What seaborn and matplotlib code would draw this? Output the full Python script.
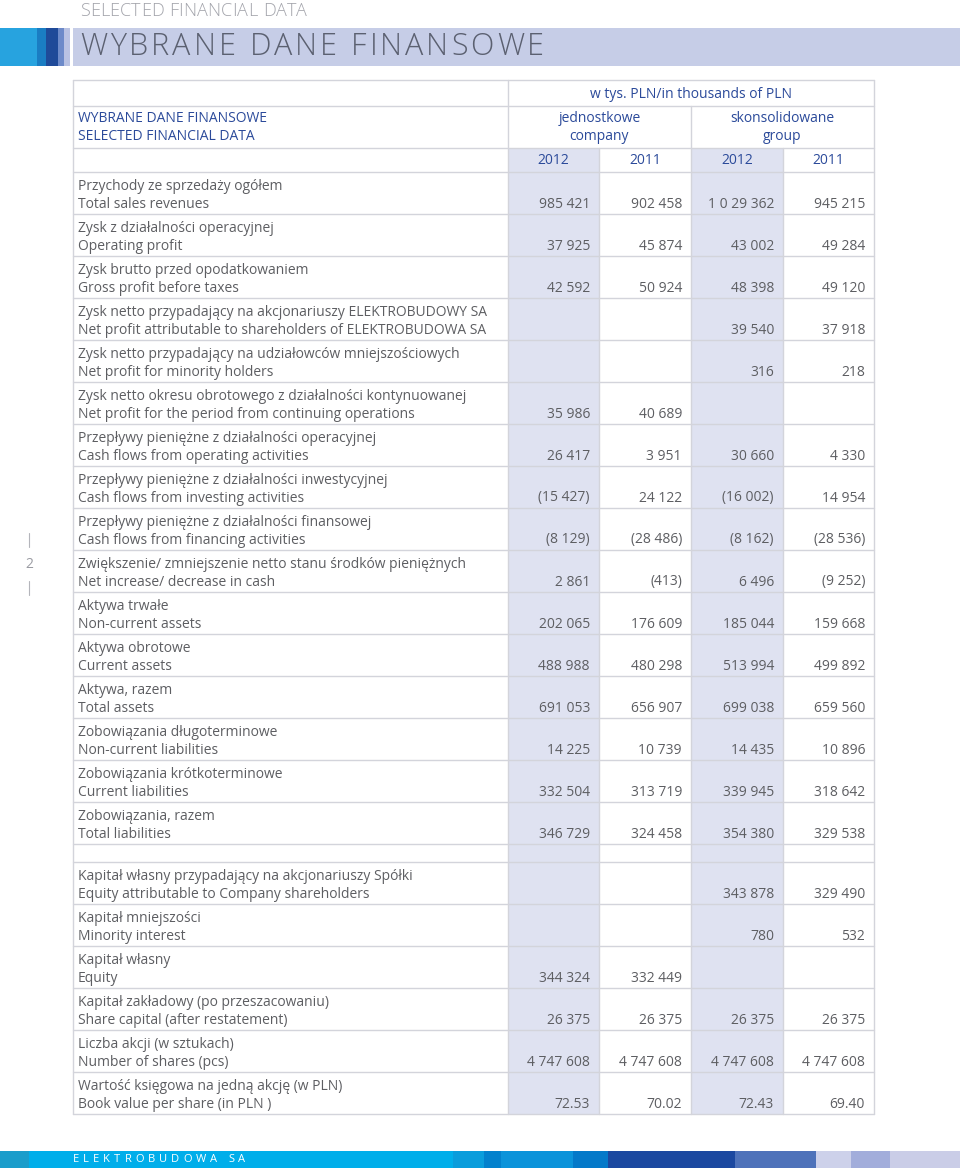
import matplotlib
matplotlib.use("Agg")
import matplotlib.pyplot as plt
import seaborn as sns

# =============================
# DATA
# =============================

labels_pl = [
    "Przychody ze sprzedaży ogółem",
    "Zysk z działalności operacyjnej",
    "Zysk brutto przed opodatkowaniem",
    "Zysk netto przypadający na akcjonariuszy ELEKTROBUDOWY SA",
    "Zysk netto przypadający na udziałowców mniejszościowych",
    "Zysk netto okresu obrotowego z działalności kontynuowanej",
    "Przepływy pieniężne z działalności operacyjnej",
    "Przepływy pieniężne z działalności inwestycyjnej",
    "Przepływy pieniężne z działalności finansowej",
    "Zwiększenie/ zmniejszenie netto stanu środków pieniężnych",
    "Aktywa trwałe",
    "Aktywa obrotowe",
    "Aktywa, razem",
    "Zobowiązania długoterminowe",
    "Zobowiązania krótkoterminowe",
    "Zobowiązania, razem",
    None,
    "Kapitał własny przypadający na akcjonariuszy Spółki",
    "Kapitał mniejszości",
    "Kapitał własny",
    "Kapitał zakładowy (po przeszacowaniu)",
    "Liczba akcji (w sztukach)",
    "Wartość księgowa na jedną akcję (w PLN)",
]
labels_en = [
    "Total sales revenues",
    "Operating profit",
    "Gross profit before taxes",
    "Net profit attributable to shareholders of ELEKTROBUDOWA SA",
    "Net profit for minority holders",
    "Net profit for the period from continuing operations",
    "Cash flows from operating activities",
    "Cash flows from investing activities",
    "Cash flows from financing activities",
    "Net increase/ decrease in cash",
    "Non-current assets",
    "Current assets",
    "Total assets",
    "Non-current liabilities",
    "Current liabilities",
    "Total liabilities",
    None,
    "Equity attributable to Company shareholders",
    "Minority interest",
    "Equity",
    "Share capital (after restatement)",
    "Number of shares (pcs)",
    "Book value per share (in PLN )",
]
company_2012 = ["985 421", "37 925", "42 592", "", "", "35 986", "26 417", "(15 427)",
                "(8 129)", "2 861", "202 065", "488 988", "691 053", "14 225", "332 504",
                "346 729", None, "", "", "344 324", "26 375", "4 747 608", "72.53"]
company_2011 = ["902 458", "45 874", "50 924", "", "", "40 689", "3 951", "24 122",
                "(28 486)", "(413)", "176 609", "480 298", "656 907", "10 739", "313 719",
                "324 458", None, "", "", "332 449", "26 375", "4 747 608", "70.02"]
group_2012 = ["1 0 29 362", "43 002", "48 398", "39 540", "316", "", "30 660", "(16 002)",
              "(8 162)", "6 496", "185 044", "513 994", "699 038", "14 435", "339 945",
              "354 380", None, "343 878", "780", "", "26 375", "4 747 608", "72.43"]
group_2011 = ["945 215", "49 284", "49 120", "37 918", "218", "", "4 330", "14 954",
              "(28 536)", "(9 252)", "159 668", "499 892", "659 560", "10 896", "318 642",
              "329 538", None, "329 490", "532", "", "26 375", "4 747 608", "69.40"]

years = ["2012", "2011", "2012", "2011"]
groups = [("jednostkowe", "company"), ("skonsolidowane", "group")]
unit_label = "w tys. PLN/in thousands of PLN"
title = "WYBRANE DANE FINANSOWE"
subtitle = "SELECTED FINANCIAL DATA"
footer = "ELEKTROBUDOWA SA"

# =============================
# STYLE
# =============================

sns.set_theme(style="white")
plt.rcParams["font.family"] = ["Open Sans", "DejaVu Sans"]

GREY = "#5d5e62"
BLUE = "#2b4a9a"
LINE = "#d3d4db"
SHADE = "#dfe2f1"

fig = plt.figure(figsize=(9.6, 11.74), dpi=100)
ax = fig.add_axes([0, 0, 1, 1])
ax.set_xlim(0, 960)
ax.set_ylim(1174, 0)
ax.axis("off")
renderer = fig.canvas.get_renderer()


def spaced(x, y, s, spacing, size, **kw):
    # draw text letter by letter to get wide tracking
    for ch in s:
        if ch == " ":
            x += size * 1.39 * 0.28 + spacing
            continue
        t = ax.text(x, y, ch, fontsize=size, va="center", ha="left", **kw)
        bb = t.get_window_extent(renderer=renderer)
        x += bb.width + spacing


# =============================
# HEADER
# =============================

spaced(80, 11, subtitle, 0.2, 13, color="#a3a4ab", fontweight="light")

ax.add_patch(plt.Rectangle((73, 28), 887, 38, color="#c6cde7", lw=0))
for x0, w, c in [(0, 37, "#27a3df"), (37, 9, "#1a7dc3"), (46, 12, "#1f4a99"),
                 (58, 6, "#6d8ac9"), (64, 6, "#b9c2e3")]:
    ax.add_patch(plt.Rectangle((x0, 28), w, 38, color=c, lw=0))
spaced(80, 47, title, 2.9, 22, color="#5b6070", fontweight="light")

# =============================
# TABLE GEOMETRY
# =============================

x_left, x_lab = 73, 508
col_edges = [508, 599, 691, 783, 874]
row_h = 42
top_unit, top_grp, top_year, top_data = 80, 106, 148, 172

row_tops = []
y = top_data
for lab in labels_pl:
    row_tops.append(y)
    y += 18 if lab is None else row_h
table_bottom = y

# shaded 2012 columns
for c in (0, 2):
    ax.add_patch(plt.Rectangle((col_edges[c], top_year), col_edges[c + 1] - col_edges[c],
                               table_bottom - top_year, color=SHADE, lw=0))

# horizontal lines
for yy in [top_unit, top_grp, top_year] + row_tops + [table_bottom]:
    ax.plot([x_left, col_edges[-1]], [yy, yy], color=LINE, lw=1)
# vertical lines
for xx in (x_left, x_lab, col_edges[-1]):
    ax.plot([xx, xx], [top_unit, table_bottom], color=LINE, lw=1)
ax.plot([col_edges[2], col_edges[2]], [top_grp, table_bottom], color=LINE, lw=1)
for xx in (col_edges[1], col_edges[3]):
    ax.plot([xx, xx], [top_year, table_bottom], color=LINE, lw=1)

# header texts
fs = 10
ax.text((col_edges[0] + col_edges[-1]) / 2, 94, unit_label, ha="center", va="center",
        fontsize=fs, color=BLUE)
for g, (pl, en) in enumerate(groups):
    cx = (col_edges[2 * g] + col_edges[2 * g + 2]) / 2
    ax.text(cx, 119, pl, ha="center", va="center", fontsize=fs, color=BLUE)
    ax.text(cx, 136, en, ha="center", va="center", fontsize=fs, color=BLUE)
for i, yr in enumerate(years):
    ax.text((col_edges[i] + col_edges[i + 1]) / 2, 161, yr, ha="center", va="center",
            fontsize=fs, color=BLUE)
ax.text(78, 119, "WYBRANE DANE FINANSOWE", ha="left", va="center", fontsize=fs, color=BLUE)
ax.text(78, 136, "SELECTED FINANCIAL DATA", ha="left", va="center", fontsize=fs, color=BLUE)

# body
cols = [company_2012, company_2011, group_2012, group_2011]
for i, top in enumerate(row_tops):
    if labels_pl[i] is None:
        continue
    ax.text(78, top + 14.5, labels_pl[i], ha="left", va="center", fontsize=fs, color=GREY)
    ax.text(78, top + 32, labels_en[i], ha="left", va="center", fontsize=fs, color=GREY)
    for c, col in enumerate(cols):
        if col[i]:
            ax.text(col_edges[c + 1] - 9, top + 32, col[i], ha="right", va="center",
                    fontsize=fs, color=GREY)

# page number
ax.text(29, 565, "2", ha="center", va="center", fontsize=10, color="#9a9ba2")
ax.plot([29, 29], [533, 547], color="#b4b5bb", lw=0.8)
ax.plot([29, 29], [581, 595], color="#b4b5bb", lw=0.8)

# =============================
# FOOTER
# =============================

for x0, x1, c in [(0, 29, "#1b9dcb"), (29, 453, "#00aeea"), (453, 484, "#0a9ddc"),
                  (484, 501, "#0381cd"), (501, 573, "#0b93da"), (573, 608, "#0479c9"),
                  (608, 735, "#1b48a0"), (735, 816, "#4e72ba"), (816, 851, "#cdd1ea"),
                  (851, 890, "#a2addb"), (890, 960, "#cacde7")]:
    ax.add_patch(plt.Rectangle((x0, 1151), x1 - x0, 17, color=c, lw=0))
spaced(73, 1160, footer, 4.0, 8, color="white")

fig.savefig("out.png", dpi=100)
